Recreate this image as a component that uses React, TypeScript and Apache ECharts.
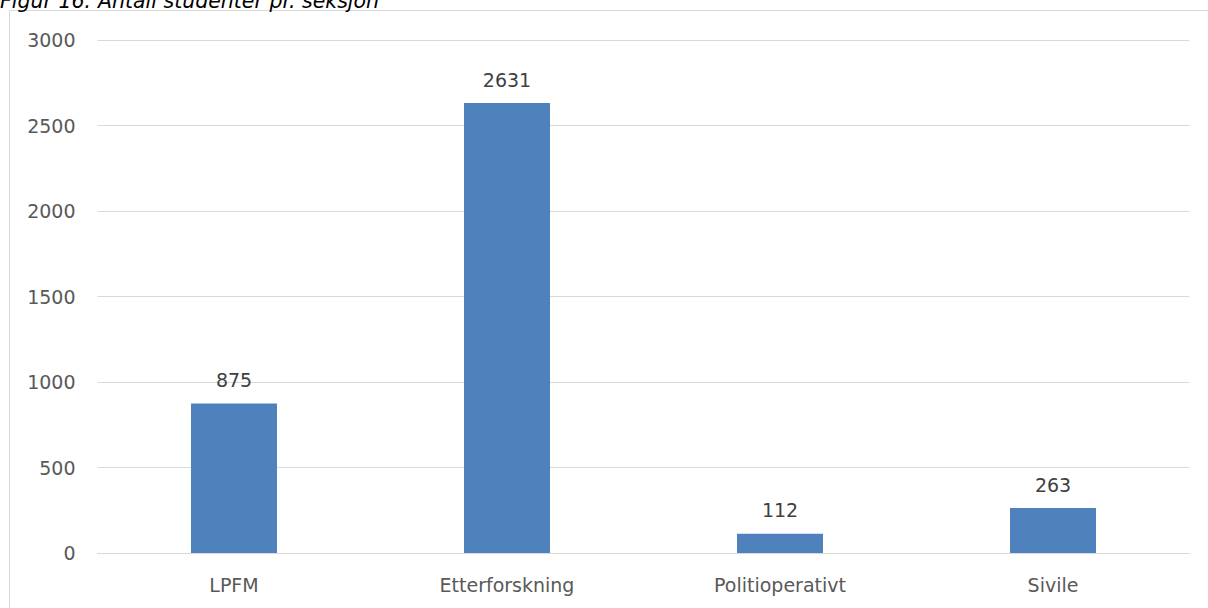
import React, { useEffect, useRef } from "react";
import * as echarts from "echarts";

const categories = ["LPFM", "Etterforskning", "Politioperativt", "Sivile"];
const values = [875, 2631, 112, 263];
const yTicks = [0, 500, 1000, 1500, 2000, 2500, 3000];
const titleText = "Figur 16: Antall studenter pr. seksjon";

export default function App() {
  const ref = useRef<HTMLDivElement>(null);
  useEffect(() => {
    if (!ref.current) return;
    const chart = echarts.init(ref.current, null, { renderer: "svg" });
    const font = "DejaVu Sans";
    chart.setOption({
      animation: false,
      backgroundColor: "#ffffff",
      graphic: [
        {
          type: "rect",
          shape: { x: 9.5, y: 10.5, width: 1220, height: 620 },
          style: { fill: "none", stroke: "#d9d9d9", lineWidth: 1 },
          silent: true,
        },
        {
          type: "text",
          x: 0,
          y: -9,
          style: {
            text: titleText,
            font: `italic 20.5px "${font}"`,
            fill: "#000000",
          },
          silent: true,
        },
      ],
      grid: { left: 97.5, right: 18.5, top: 40, bottom: 55, containLabel: false },
      xAxis: {
        type: "category",
        data: categories,
        axisLine: { show: true, lineStyle: { color: "#d9d9d9", width: 1 } },
        axisTick: { show: false },
        axisLabel: { color: "#595959", fontFamily: font, fontSize: 19, margin: 22 },
      },
      yAxis: {
        type: "value",
        min: yTicks[0],
        max: yTicks[yTicks.length - 1],
        interval: 500,
        axisLine: { show: false },
        axisTick: { show: false },
        splitLine: { lineStyle: { color: "#d9d9d9", width: 1 } },
        axisLabel: {
          color: "#595959",
          fontFamily: font,
          fontSize: 19,
          margin: 22,
          formatter: (v: number) => String(v),
        },
      },
      series: [
        {
          type: "bar",
          data: values,
          barWidth: "31.5%",
          itemStyle: { color: "#4f81bd" },
          label: {
            show: true,
            position: "top",
            distance: 14,
            color: "#404040",
            fontFamily: font,
            fontSize: 19,
          },
        },
      ],
    });
    return () => chart.dispose();
  }, []);
  return <div ref={ref} style={{ width: 1208, height: 608, position: "absolute", left: 0, top: 0 }} />;
}
